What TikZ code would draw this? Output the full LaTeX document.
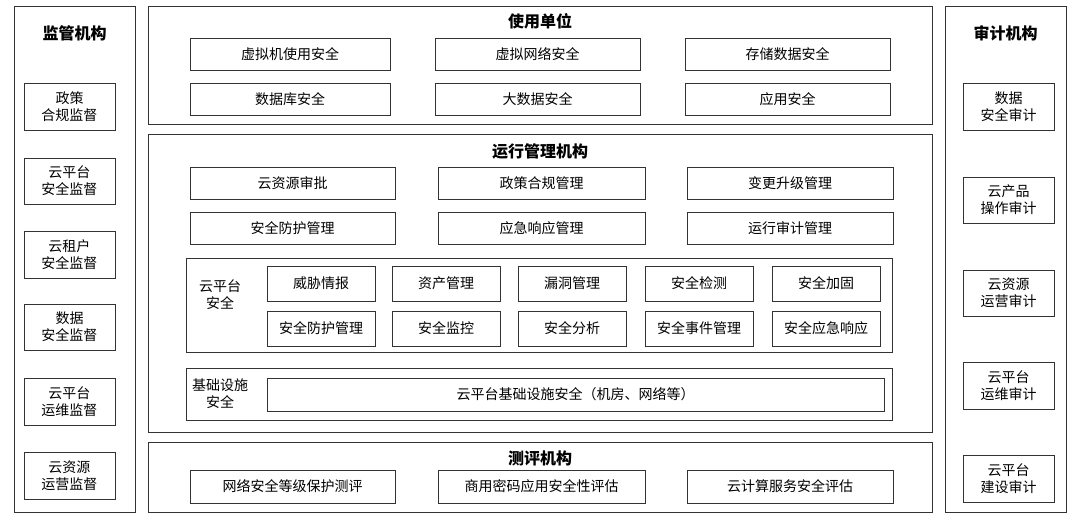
\documentclass[tikz,border=0pt]{standalone}
\usepackage{fontspec}
\setmainfont{Noto Sans CJK SC}
\begin{document}
\begin{tikzpicture}[x=1pt,y=-1pt,
  frame/.style={draw=black!80,line width=0.8pt},
  cell/.style={draw=black!80,line width=0.7pt,fill=white,font=\fontsize{14}{17}\selectfont},
  ttl/.style={font=\fontsize{16}{19}\selectfont\bfseries},
  lbl/.style={font=\fontsize{14}{17}\selectfont,align=center}]
\useasboundingbox (0,0) rectangle (1080,518);
\newcommand\bx[6]{\node[cell,minimum width=#3-#2,minimum height=#5-#4,align=center,inner sep=0pt] (#1) at ({(#2+#3)/2},{(#4+#5)/2}) {#6};}
% left
\draw[frame] (14,6) rectangle (135,512);
\node[ttl] (lt) at (74.5,33) {监管机构};
\bx{l1}{24}{115}{83}{130}{政策\\合规监督}
\bx{l2}{24}{115}{158}{204}{云平台\\安全监督}
\bx{l3}{24}{115}{231}{278}{云租户\\安全监督}
\bx{l4}{24}{115}{304}{350}{数据\\安全监督}
\bx{l5}{24}{115}{378}{425}{云平台\\运维监督}
\bx{l6}{24}{115}{452}{499}{云资源\\运营监督}
% right
\draw[frame] (945,6) rectangle (1066,512);
\node[ttl] (rt) at (1005.5,33) {审计机构};
\bx{r1}{963}{1054}{83}{130}{数据\\安全审计}
\bx{r2}{963}{1054}{177}{223}{云产品\\操作审计}
\bx{r3}{963}{1054}{270}{316}{云资源\\运营审计}
\bx{r4}{963}{1054}{362}{409}{云平台\\运维审计}
\bx{r5}{963}{1054}{455}{502}{云平台\\建设审计}
% top
\draw[frame] (148,6) rectangle (932,124);
\node[ttl] (t1) at (540,21) {使用单位};
\bx{a1}{190}{390}{38}{70}{虚拟机使用安全}
\bx{a2}{435}{640}{38}{70}{虚拟网络安全}
\bx{a3}{685}{890}{38}{70}{存储数据安全}
\bx{a4}{190}{390}{83}{115}{数据库安全}
\bx{a5}{435}{640}{83}{115}{大数据安全}
\bx{a6}{685}{890}{83}{115}{应用安全}
% middle
\draw[frame] (148,134) rectangle (932,432);
\node[ttl] (t2) at (540,151) {运行管理机构};
\bx{b1}{190}{395}{167}{199}{云资源审批}
\bx{b2}{438}{645}{167}{199}{政策合规管理}
\bx{b3}{687}{893}{167}{199}{变更升级管理}
\bx{b4}{190}{395}{212}{244}{安全防护管理}
\bx{b5}{438}{645}{212}{244}{应急响应管理}
\bx{b6}{687}{893}{212}{244}{运行审计管理}
\draw[frame,line width=0.7pt] (186,258) rectangle (892,352);
\node[lbl] (cs) at (220,295) {云平台\\安全};
\bx{c1}{267}{375}{266}{301}{威胁情报}
\bx{c2}{392}{500}{266}{301}{资产管理}
\bx{c3}{518}{626}{266}{301}{漏洞管理}
\bx{c4}{645}{753}{266}{301}{安全检测}
\bx{c5}{772}{880}{266}{301}{安全加固}
\bx{c6}{267}{375}{311}{346}{安全防护管理}
\bx{c7}{392}{500}{311}{346}{安全监控}
\bx{c8}{518}{626}{311}{346}{安全分析}
\bx{c9}{645}{753}{311}{346}{安全事件管理}
\bx{c10}{772}{880}{311}{346}{安全应急响应}
\draw[frame,line width=0.7pt] (186,368) rectangle (892,420);
\node[lbl] (is) at (220,394) {基础设施\\安全};
\bx{d1}{267}{884}{378}{411}{云平台基础设施安全（机房、网络等）}
% bottom
\draw[frame] (148,442) rectangle (932,512);
\node[ttl] (t3) at (540,458) {测评机构};
\bx{e1}{190}{395}{470}{503}{网络安全等级保护测评}
\bx{e2}{438}{645}{470}{503}{商用密码应用安全性评估}
\bx{e3}{687}{893}{470}{503}{云计算服务安全评估}
\end{tikzpicture}
\end{document}
